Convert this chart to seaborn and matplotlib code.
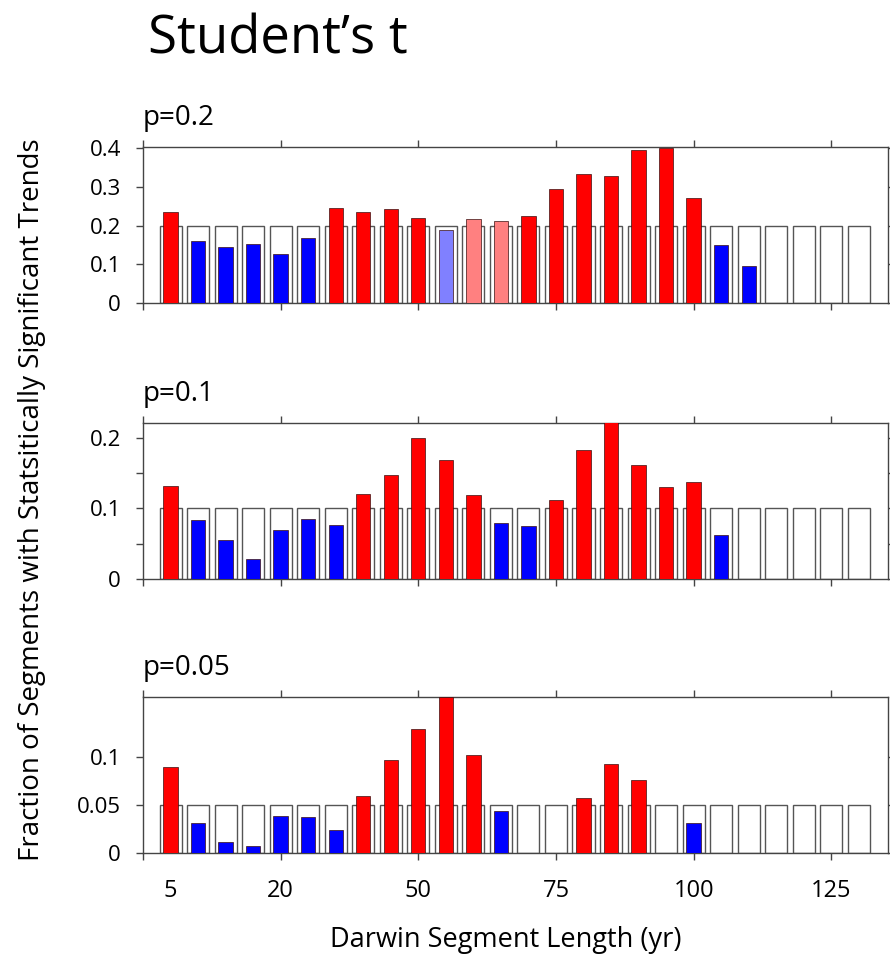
import numpy as np
import pandas as pd
import seaborn as sns
import matplotlib.pyplot as plt
from matplotlib.ticker import FixedLocator, NullFormatter

# Segment lengths (yr)
lengths = [5, 10, 15, 20, 25, 30, 35, 40, 45, 50, 55, 60, 65,
           70, 75, 80, 85, 90, 95, 100, 105, 110, 115, 120, 125, 130]

# Fraction of segments with significant trends, per significance level
frac_p20 = [0.236, 0.161, 0.145, 0.152, 0.127, 0.169, 0.246, 0.236, 0.243, 0.220,
            0.189, 0.216, 0.213, 0.225, 0.294, 0.334, 0.328, 0.394, 0.400, 0.272,
            0.150, 0.096, 0, 0, 0, 0]
frac_p10 = [0.132, 0.083, 0.055, 0.029, 0.069, 0.085, 0.077, 0.120, 0.148, 0.200,
            0.169, 0.119, 0.080, 0.075, 0.112, 0.183, 0.222, 0.162, 0.131, 0.137,
            0.062, 0, 0, 0, 0, 0]
frac_p05 = [0.090, 0.031, 0.011, 0.007, 0.039, 0.037, 0.0235, 0.059, 0.097, 0.129,
            0.1625, 0.102, 0.044, 0, 0, 0.057, 0.093, 0.076, 0, 0.031,
            0, 0, 0, 0, 0, 0]

# Bar class: above/below expected level, strong or weak
class_p20 = ["above", "below", "below", "below", "below", "below", "above", "above",
             "above", "above", "below_weak", "above_weak", "above_weak", "above",
             "above", "above", "above", "above", "above", "above", "below", "below",
             "none", "none", "none", "none"]
class_p10 = ["above", "below", "below", "below", "below", "below", "below", "above",
             "above", "above", "above", "above", "below", "below", "above", "above",
             "above", "above", "above", "above", "below", "none", "none", "none",
             "none", "none"]
class_p05 = ["above", "below", "below", "below", "below", "below", "below", "above",
             "above", "above", "above", "above", "below", "none", "none", "above",
             "above", "above", "none", "below", "none", "none", "none", "none",
             "none", "none"]

p_levels = [0.2, 0.1, 0.05]
panel_titles = ["p=0.2", "p=0.1", "p=0.05"]
y_limits = [0.403, 0.221, 0.1625]
y_major = [[0, 0.1, 0.2, 0.3, 0.4], [0, 0.1, 0.2], [0, 0.05, 0.1]]
y_labels = [["0", "0.1", "0.2", "0.3", "0.4"], ["0", "0.1", "0.2"], ["0", "0.05", "0.1"]]
y_minor = [[], [0.05, 0.15], []]

x_ticks = [0, 25, 50, 75, 100, 125]
x_tick_labels = ["", "20", "50", "75", "100", "125"]
x_first_label = "5"

palette = {"above": "#ff0000", "below": "#0000ff",
           "above_weak": "#ff8080", "below_weak": "#8080ff"}

sns.set_theme(style="ticks")
plt.rcParams["font.family"] = ["Open Sans", "DejaVu Sans"]
plt.rcParams["text.color"] = "black"
plt.rcParams["axes.edgecolor"] = "#444444"
plt.rcParams["xtick.color"] = "#444444"
plt.rcParams["ytick.color"] = "#444444"
plt.rcParams["xtick.labelcolor"] = "black"
plt.rcParams["ytick.labelcolor"] = "black"

fig = plt.figure(figsize=(8.9, 9.61), dpi=100)

W, H = 890.0, 961.0
left_px, right_px = 143, 888
tops = [147, 423, 697]
heights = 156

fractions = [frac_p20, frac_p10, frac_p05]
classes = [class_p20, class_p10, class_p05]

for i in range(3):
    top = tops[i]
    ax = fig.add_axes([left_px / W, 1 - (top + heights) / H,
                       (right_px - left_px) / W, heights / H])

    ref_level = [p_levels[i]] * len(lengths)
    ref = pd.DataFrame({"length": lengths, "frac": ref_level})
    sns.barplot(data=ref, x="length", y="frac", native_scale=True, width=0.8,
                color="white", saturation=1, edgecolor="#555555", linewidth=1.0,
                errorbar=None, ax=ax, zorder=2)

    df = pd.DataFrame({"length": lengths, "frac": fractions[i], "cls": classes[i]})
    df = df[df["cls"] != "none"]
    sns.barplot(data=df, x="length", y="frac", hue="cls", palette=palette,
                saturation=1, native_scale=True, dodge=False, width=0.52,
                edgecolor="#3a1010", linewidth=0.5, errorbar=None,
                legend=False, ax=ax, zorder=3)

    ax.set_xlim(0, 135.3)
    ax.set_ylim(0, y_limits[i])
    for s in ax.spines.values():
        s.set_visible(True)
        s.set_linewidth(1.0)

    ax.xaxis.set_major_locator(FixedLocator(x_ticks))
    ax.set_xticklabels(x_tick_labels if i == 2 else [""] * len(x_ticks))
    ax.xaxis.set_minor_locator(FixedLocator([5]))
    if i == 2:
        ax.xaxis.set_minor_formatter(lambda v, pos: x_first_label)
    else:
        ax.xaxis.set_minor_formatter(NullFormatter())
    ax.tick_params(axis="x", which="minor", length=0, pad=19, labelsize=17)
    ax.tick_params(axis="x", which="major", direction="out", length=5, width=1,
                   pad=14, labelsize=17, top=True, bottom=True)

    ax.yaxis.set_major_locator(FixedLocator(y_major[i]))
    ax.set_yticklabels(y_labels[i])
    ax.yaxis.set_minor_locator(FixedLocator(y_minor[i]))
    ax.yaxis.set_minor_formatter(NullFormatter())
    ax.tick_params(axis="y", which="both", direction="out", length=5, width=1,
                   pad=11, labelsize=16, left=True, right=True)

    ax.set_xlabel("")
    ax.set_ylabel("")
    ax.annotate(panel_titles[i], xy=(0, 1), xycoords="axes fraction",
                xytext=(0, 16), textcoords="offset points",
                ha="left", va="baseline", fontsize=20)

fig.text(148 / W, 1 - 53 / H, "Student\u2019s t", fontsize=38,
         ha="left", va="baseline")
fig.text(32 / W, 1 - 500 / H,
         "Fraction of Segments with Statsitically Significant Trends",
         rotation=90, ha="center", va="center", fontsize=20)
fig.text(506 / W, 1 - 947 / H, "Darwin Segment Length (yr)",
         ha="center", va="baseline", fontsize=19.5)

fig.savefig("out.png", dpi=100, facecolor="white")
